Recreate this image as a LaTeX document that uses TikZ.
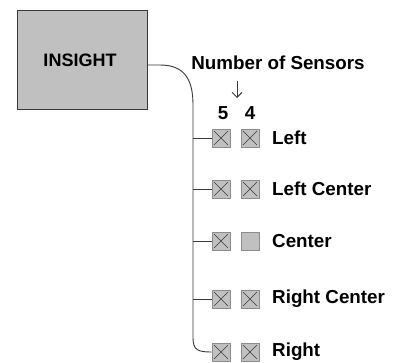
\documentclass[tikz,border=0pt]{standalone}
\usepackage{fontspec}
\setmainfont{Liberation Sans}
\usetikzlibrary{arrows.meta}
\definecolor{boxgray}{HTML}{C0C0C0}
\definecolor{edgegray}{HTML}{8C8C8C}
\definecolor{wire}{HTML}{3A3A3A}
\begin{document}
\begin{tikzpicture}[x=1pt,y=-1pt,
  lbl/.style={font=\fontsize{18.8}{20}\selectfont\bfseries, inner sep=0pt},
  sensor/.style={draw=edgegray, fill=boxgray, minimum size=18pt, inner sep=0pt, line width=0.8pt},
  xsensor/.style={sensor, path picture={
      \draw[wire, line width=0.6pt]
        ([shift={(2pt,2pt)}]path picture bounding box.south west) --
        ([shift={(-2pt,-2pt)}]path picture bounding box.north east)
        ([shift={(2pt,-2pt)}]path picture bounding box.north west) --
        ([shift={(-2pt,2pt)}]path picture bounding box.south east);}},
  link/.style={draw=wire, line width=0.9pt}]
\useasboundingbox (0,0) rectangle (395,362);
\fill[white] (0,0) rectangle (395,362);

% main unit
\node[draw=wire, fill=boxgray, line width=0.9pt, minimum width=130pt, minimum height=99pt,
      inner sep=0pt] (insight) at (82,59.5) {};
\node[lbl, font=\fontsize{18}{20}\selectfont\bfseries] (insighttxt) at (80,60) {INSIGHT};

% heading and column numbers
\node[lbl] (heading) at (278,63) {Number of Sensors};
\node[lbl] (five) at (223,113) {5};
\node[lbl] (four) at (250,113) {4};
\coordinate (arrtop) at (237,81);
\coordinate (arrbot) at (237,98);
\draw[wire, line width=0.9pt, -{Straight Barb[length=5pt,width=10pt]}] (arrtop) -- (arrbot);

% sensor rows: y position, name, label, style of the second box
\foreach \y/\n/\t/\s in {138/l/Left/xsensor, 189/lc/Left Center/xsensor,
                          241/c/Center/sensor, 299/rc/Right Center/xsensor,
                          352/r/Right/xsensor}{
  \node[xsensor] (\n a) at (221,\y) {};
  \node[\s] (\n b) at (250,\y) {};
  \node[lbl, anchor=west] (\n t) at (272,\y) {\t};
}

% trunk from the unit down to the rows
\coordinate (tstart) at (160,65);
\coordinate (ttop) at (193,105);
\coordinate (tbot) at (193,338);
\path[link] (insight.east |- tstart) -- (tstart)
  .. controls (185,65) and (193,80) .. (ttop) -- (tbot)
  .. controls (193,350) and (198,352) .. (ra.west);
\foreach \n in {l,lc,c,rc}{
  \draw[link] (ttop |- \n a.west) -- (\n a.west);
}
\end{tikzpicture}
\end{document}
